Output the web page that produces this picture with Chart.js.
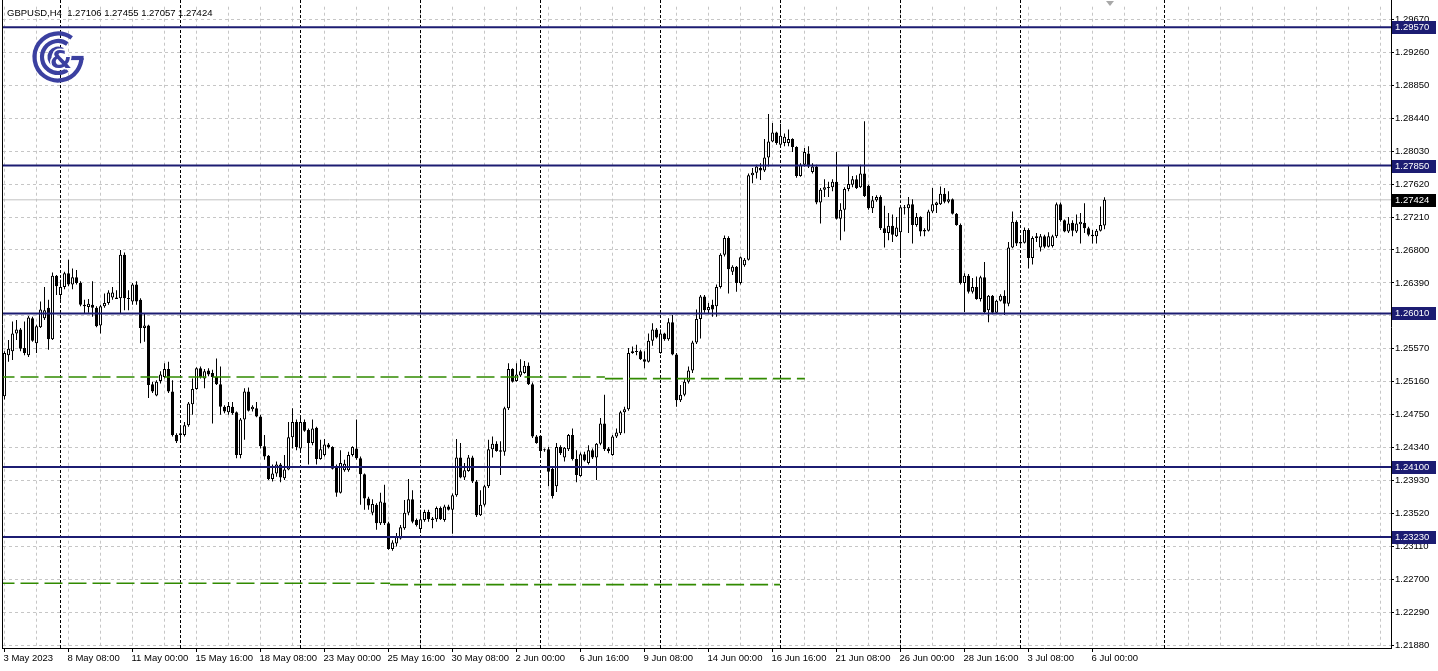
<!DOCTYPE html>
<html>
<head>
<meta charset="utf-8">
<script src="https://cdn.jsdelivr.net/npm/chart.js@4.4.0/dist/chart.umd.min.js"></script>
<style>
html,body{margin:0;padding:0;background:#fff;overflow:hidden}
#wrap{position:relative;width:1438px;height:671px}
#c{position:absolute;left:0;top:0}
</style>
</head>
<body>
<div id="wrap"><canvas id="c" width="1438" height="671"></canvas></div>
<script>
const symbolName = 'GBPUSD';
const timeframe = 'H4';

const opens = [1.2498,1.2549,1.2554,1.2576,1.2581,1.2558,1.2549,1.2595,1.2564,1.2584,
1.2595,1.2608,1.2569,1.2648,1.2624,1.2634,1.2651,1.2637,1.2646,1.2639,
1.2612,1.2609,1.2612,1.2608,1.2586,1.2610,1.2614,1.2621,1.2621,1.2620,
1.2674,1.2620,1.2616,1.2637,1.2618,1.2583,1.2586,1.2513,1.2499,1.2517,
1.2522,1.2532,1.2504,1.2450,1.2450,1.2450,1.2462,1.2488,1.2507,1.2533,
1.2520,1.2530,1.2527,1.2522,1.2513,1.2485,1.2478,1.2485,1.2478,1.2425,
1.2469,1.2504,1.2482,1.2483,1.2473,1.2436,1.2424,1.2395,1.2402,1.2413,
1.2396,1.2407,1.2447,1.2466,1.2433,1.2466,1.2456,1.2440,1.2459,1.2420,
1.2425,1.2438,1.2435,1.2410,1.2378,1.2406,1.2406,1.2425,1.2433,1.2421,
1.2401,1.2371,1.2353,1.2363,1.2340,1.2366,1.2340,1.2308,1.2315,1.2321,
1.2334,1.2353,1.2370,1.2344,1.2333,1.2344,1.2354,1.2346,1.2345,1.2359,
1.2344,1.2361,1.2357,1.2375,1.2422,1.2397,1.2405,1.2422,1.2392,1.2350,
1.2363,1.2386,1.2432,1.2439,1.2431,1.2429,1.2483,1.2532,1.2517,1.2524,
1.2527,1.2536,1.2513,1.2448,1.2449,1.2432,1.2432,1.2408,1.2386,1.2435,
1.2422,1.2432,1.2450,1.2420,1.2399,1.2426,1.2415,1.2431,1.2422,1.2439,
1.2464,1.2433,1.2425,1.2448,1.2452,1.2478,1.2482,1.2554,1.2554,1.2554,
1.2544,1.2541,1.2567,1.2581,1.2552,1.2576,1.2569,1.2590,1.2550,1.2493,
1.2500,1.2516,1.2530,1.2565,1.2594,1.2622,1.2605,1.2612,1.2610,1.2634,
1.2674,1.2695,1.2653,1.2659,1.2639,1.2661,1.2668,1.2773,1.2776,1.2782,
1.2779,1.2795,1.2815,1.2826,1.2811,1.2813,1.2813,1.2818,1.2808,1.2772,
1.2786,1.2800,1.2777,1.2784,1.2739,1.2755,1.2757,1.2758,1.2765,1.2719,
1.2730,1.2756,1.2761,1.2768,1.2758,1.2775,1.2760,1.2732,1.2742,1.2746,
1.2707,1.2701,1.2710,1.2697,1.2702,1.2732,1.2732,1.2737,1.2711,1.2721,
1.2705,1.2704,1.2728,1.2736,1.2737,1.2750,1.2740,1.2743,1.2725,1.2711,
1.2639,1.2648,1.2628,1.2634,1.2619,1.2646,1.2605,1.2623,1.2602,1.2617,
1.2623,1.2613,1.2683,1.2715,1.2688,1.2689,1.2705,1.2670,1.2695,1.2683,
1.2697,1.2684,1.2685,1.2697,1.2737,1.2717,1.2703,1.2714,1.2703,1.2712,
1.2714,1.2707,1.2699,1.2697,1.2704,1.27106];

const highs = [1.2554,1.2568,1.2591,1.2593,1.2583,1.2591,1.2598,1.2597,1.2587,1.2616,
1.2634,1.2618,1.2652,1.2649,1.2643,1.2653,1.2668,1.2657,1.2655,1.2641,
1.2618,1.2619,1.2641,1.2610,1.2612,1.2626,1.2630,1.2634,1.2630,1.2680,
1.2677,1.2630,1.2639,1.2641,1.2620,1.2601,1.2587,1.2516,1.2518,1.2529,
1.2539,1.2541,1.2518,1.2452,1.2460,1.2466,1.2491,1.2520,1.2534,1.2535,
1.2532,1.2533,1.2531,1.2545,1.2535,1.2487,1.2491,1.2491,1.2479,1.2471,
1.2508,1.2509,1.2487,1.2491,1.2475,1.2450,1.2425,1.2413,1.2417,1.2415,
1.2425,1.2466,1.2483,1.2469,1.2471,1.2469,1.2458,1.2469,1.2460,1.2444,
1.2445,1.2440,1.2436,1.2413,1.2431,1.2419,1.2429,1.2436,1.2469,1.2423,
1.2402,1.2373,1.2370,1.2365,1.2378,1.2388,1.2342,1.2319,1.2328,1.2338,
1.2369,1.2395,1.2381,1.2346,1.2357,1.2357,1.2357,1.2348,1.2361,1.2361,
1.2363,1.2363,1.2377,1.2445,1.2440,1.2415,1.2425,1.2424,1.2394,1.2381,
1.2388,1.2444,1.2448,1.2442,1.2442,1.2485,1.2539,1.2533,1.2539,1.2544,
1.2542,1.2540,1.2515,1.2450,1.2450,1.2433,1.2435,1.2410,1.2440,1.2437,
1.2435,1.2451,1.2458,1.2431,1.2428,1.2429,1.2437,1.2433,1.2440,1.2471,
1.2500,1.2435,1.2450,1.2458,1.2480,1.2485,1.2558,1.2560,1.2562,1.2556,
1.2554,1.2576,1.2589,1.2583,1.2581,1.2577,1.2595,1.2599,1.2552,1.2512,
1.2520,1.2535,1.2567,1.2606,1.2624,1.2624,1.2614,1.2618,1.2637,1.2676,
1.2698,1.2697,1.2661,1.2660,1.2672,1.2670,1.2775,1.2782,1.2786,1.2788,
1.2818,1.2849,1.2838,1.2827,1.2837,1.2825,1.2830,1.2819,1.2809,1.2788,
1.2807,1.2809,1.2788,1.2786,1.2757,1.2768,1.2765,1.2768,1.2802,1.2738,
1.2758,1.2786,1.2772,1.2773,1.2786,1.2840,1.2761,1.2747,1.2748,1.2748,
1.2735,1.2726,1.2724,1.2721,1.2735,1.2736,1.2746,1.2743,1.2726,1.2722,
1.2707,1.2730,1.2757,1.2740,1.2759,1.2757,1.2753,1.2744,1.2726,1.2713,
1.2651,1.2650,1.2645,1.2647,1.2648,1.2665,1.2624,1.2624,1.2618,1.2625,
1.2630,1.2690,1.2728,1.2717,1.2695,1.2708,1.2707,1.2697,1.2701,1.2700,
1.2699,1.2702,1.2699,1.2739,1.2739,1.2718,1.2721,1.2717,1.2724,1.2726,
1.2738,1.2709,1.2705,1.2706,1.2734,1.27455];

const lows = [1.2494,1.2541,1.2543,1.2568,1.2554,1.2549,1.2547,1.2566,1.2552,1.2583,
1.2593,1.2556,1.2568,1.2624,1.2618,1.2631,1.2635,1.2631,1.2637,1.2610,
1.2601,1.2602,1.2597,1.2584,1.2576,1.2608,1.2612,1.2618,1.2619,1.2601,
1.2605,1.2605,1.2612,1.2612,1.2564,1.2566,1.2496,1.2502,1.2498,1.2514,
1.2520,1.2502,1.2448,1.2440,1.2440,1.2448,1.2460,1.2475,1.2506,1.2520,
1.2508,1.2523,1.2464,1.2512,1.2475,1.2477,1.2475,1.2475,1.2421,1.2421,
1.2444,1.2479,1.2479,1.2472,1.2433,1.2419,1.2394,1.2392,1.2398,1.2391,
1.2394,1.2406,1.2433,1.2431,1.2431,1.2454,1.2413,1.2437,1.2413,1.2419,
1.2423,1.2433,1.2407,1.2373,1.2377,1.2404,1.2404,1.2423,1.2419,1.2363,
1.2357,1.2357,1.2350,1.2332,1.2338,1.2338,1.2307,1.2306,1.2311,1.2320,
1.2332,1.2350,1.2340,1.2336,1.2328,1.2342,1.2342,1.2334,1.2342,1.2344,
1.2342,1.2356,1.2327,1.2373,1.2396,1.2394,1.2404,1.2390,1.2348,1.2349,
1.2361,1.2384,1.2422,1.2429,1.2400,1.2424,1.2481,1.2515,1.2516,1.2522,
1.2526,1.2512,1.2446,1.2439,1.2425,1.2429,1.2386,1.2371,1.2379,1.2425,
1.2417,1.2430,1.2418,1.2391,1.2398,1.2417,1.2413,1.2420,1.2394,1.2437,
1.2430,1.2427,1.2424,1.2446,1.2450,1.2452,1.2480,1.2551,1.2549,1.2543,
1.2533,1.2540,1.2561,1.2570,1.2551,1.2567,1.2567,1.2549,1.2485,1.2491,
1.2498,1.2514,1.2527,1.2563,1.2570,1.2602,1.2601,1.2597,1.2597,1.2632,
1.2672,1.2626,1.2649,1.2628,1.2637,1.2659,1.2667,1.2763,1.2769,1.2767,
1.2777,1.2784,1.2814,1.2811,1.2809,1.2809,1.2809,1.2802,1.2770,1.2771,
1.2784,1.2782,1.2775,1.2737,1.2713,1.2746,1.2746,1.2753,1.2718,1.2692,
1.2703,1.2753,1.2758,1.2756,1.2757,1.2746,1.2730,1.2726,1.2740,1.2705,
1.2683,1.2692,1.2690,1.2696,1.2670,1.2724,1.2701,1.2688,1.2709,1.2697,
1.2697,1.2703,1.2726,1.2726,1.2736,1.2738,1.2738,1.2724,1.2710,1.2637,
1.2603,1.2626,1.2626,1.2618,1.2616,1.2601,1.2590,1.2600,1.2601,1.2616,
1.2599,1.2610,1.2682,1.2685,1.2686,1.2688,1.2657,1.2662,1.2690,1.2678,
1.2682,1.2683,1.2683,1.2695,1.2715,1.2702,1.2701,1.2697,1.2701,1.2688,
1.2701,1.2697,1.2688,1.2688,1.2703,1.27057];

const closes = [1.2552,1.2557,1.2576,1.2581,1.2557,1.2552,1.2596,1.2567,1.2585,1.2606,
1.2605,1.2569,1.2648,1.2635,1.2634,1.2651,1.2637,1.2646,1.2639,1.2612,
1.2610,1.2613,1.2608,1.2585,1.2610,1.2614,1.2627,1.2627,1.2619,1.2674,
1.2620,1.2619,1.2637,1.2616,1.2583,1.2586,1.2512,1.2504,1.2516,1.2525,
1.2532,1.2504,1.2450,1.2442,1.2452,1.2462,1.2489,1.2507,1.2533,1.2522,
1.2529,1.2525,1.2522,1.2513,1.2485,1.2479,1.2486,1.2477,1.2425,1.2469,
1.2504,1.2480,1.2485,1.2473,1.2436,1.2423,1.2395,1.2402,1.2413,1.2397,
1.2407,1.2447,1.2466,1.2435,1.2466,1.2455,1.2440,1.2458,1.2420,1.2432,
1.2438,1.2435,1.2408,1.2378,1.2415,1.2414,1.2425,1.2435,1.2421,1.2401,
1.2371,1.2362,1.2364,1.2340,1.2367,1.2340,1.2308,1.2316,1.2323,1.2335,
1.2353,1.2370,1.2342,1.2338,1.2345,1.2354,1.2345,1.2344,1.2359,1.2345,
1.2361,1.2357,1.2375,1.2422,1.2397,1.2406,1.2422,1.2392,1.2350,1.2363,
1.2386,1.2432,1.2439,1.2430,1.2429,1.2483,1.2532,1.2516,1.2525,1.2529,
1.2536,1.2513,1.2448,1.2440,1.2430,1.2431,1.2404,1.2374,1.2435,1.2427,
1.2434,1.2450,1.2420,1.2400,1.2426,1.2418,1.2431,1.2422,1.2439,1.2464,
1.2432,1.2430,1.2448,1.2453,1.2478,1.2482,1.2552,1.2552,1.2553,1.2544,
1.2541,1.2567,1.2581,1.2571,1.2576,1.2569,1.2590,1.2550,1.2493,1.2500,
1.2516,1.2530,1.2565,1.2594,1.2622,1.2605,1.2609,1.2606,1.2634,1.2674,
1.2695,1.2656,1.2659,1.2639,1.2671,1.2668,1.2773,1.2776,1.2784,1.2779,
1.2795,1.2815,1.2826,1.2813,1.2822,1.2821,1.2818,1.2808,1.2772,1.2786,
1.2802,1.2784,1.2784,1.2739,1.2755,1.2758,1.2758,1.2765,1.2719,1.2730,
1.2756,1.2762,1.2768,1.2757,1.2775,1.2747,1.2732,1.2742,1.2746,1.2707,
1.2701,1.2710,1.2699,1.2708,1.2733,1.2733,1.2737,1.2711,1.2721,1.2703,
1.2703,1.2728,1.2737,1.2739,1.2750,1.2740,1.2743,1.2725,1.2711,1.2639,
1.2648,1.2628,1.2634,1.2619,1.2646,1.2603,1.2623,1.2602,1.2617,1.2623,
1.2613,1.2683,1.2715,1.2688,1.2690,1.2705,1.2670,1.2695,1.2697,1.2697,
1.2684,1.2697,1.2697,1.2737,1.2717,1.2703,1.2713,1.2704,1.2713,1.2715,
1.2707,1.2699,1.2697,1.2704,1.2711,1.27424];

const xTickLabels = ['3 May 2023','8 May 08:00','11 May 00:00','15 May 16:00','18 May 08:00',
  '23 May 00:00','25 May 16:00','30 May 08:00','2 Jun 00:00','6 Jun 16:00','9 Jun 08:00',
  '14 Jun 00:00','16 Jun 16:00','21 Jun 08:00','26 Jun 00:00','28 Jun 16:00','3 Jul 08:00','6 Jul 00:00'];
const barsPerLabel = 16;
const barsPerGrid = 8;

const yTickValues = [1.2188,1.2229,1.2270,1.2311,1.2352,1.2393,1.2434,1.2475,1.2516,1.2557,
  1.2598,1.2639,1.2680,1.2721,1.2762,1.2803,1.2844,1.2885,1.2926,1.2967];

const levelPrices = [1.2957, 1.2785, 1.2601, 1.2410, 1.2323];
const currentPrice = closes[closes.length - 1];
const weekSeparatorBars = [14, 44, 74, 104, 134, 164, 194, 224, 254, 290];
// [start bar, end bar, price]
const greenLevels = [[-2, 150.1, 1.2522], [150.1, 200.1, 1.2520], [-2, 96.4, 1.22655], [96.4, 193.9, 1.22637]];

// ---------- view settings ----------
const X_MIN = -0.375, X_MAX = 346.625;
const PX_PER_PRICE = 8039;
const ANCHOR_PRICE = 1.2188, ANCHOR_Y = 645.5;
const FONT = '"Liberation Sans", Arial, sans-serif';
const NAVY = '#1c1c72';

const bodies = closes.map((c, i) => ({x: i, y: [opens[i], c]}));
const wicks = highs.map((h, i) => ({x: i, y: [lows[i], h]}));
const bodyFill = closes.map((c, i) => c >= opens[i] ? '#ffffff' : '#000000');

const datasets = [];
datasets.push({type: 'line', data: [{x: X_MIN - 2, y: currentPrice}, {x: X_MAX + 2, y: currentPrice}],
  borderColor: '#c2c2c2', borderWidth: 1, pointRadius: 0, order: 10});
datasets.push({type: 'bar', data: wicks, backgroundColor: '#000', borderWidth: 0,
  barThickness: 1, grouped: false, inflateAmount: 0, order: 6});
datasets.push({type: 'bar', data: bodies, backgroundColor: bodyFill, borderColor: '#000', borderWidth: 1,
  borderSkipped: false, barThickness: 3, minBarLength: 1, grouped: false, inflateAmount: 0, order: 5});
greenLevels.forEach(g => datasets.push({type: 'line', data: [{x: g[0], y: g[2]}, {x: g[1], y: g[2]}],
  borderColor: '#318a00', borderWidth: 1.6, borderDash: [18, 6], pointRadius: 0, order: 2}));
levelPrices.forEach(p => datasets.push({type: 'line', data: [{x: X_MIN - 2, y: p}, {x: X_MAX + 2, y: p}],
  borderColor: NAVY, borderWidth: 2, pointRadius: 0, order: 1}));

const decor = {
  id: 'decor',
  beforeDatasetsDraw(chart) {
    const {ctx, chartArea: a, scales: {x}} = chart;
    ctx.save();
    ctx.strokeStyle = '#000'; ctx.lineWidth = 1; ctx.setLineDash([3, 2]);
    weekSeparatorBars.forEach(b => {
      const px = Math.floor(x.getPixelForValue(b)) + 0.5;
      ctx.beginPath(); ctx.moveTo(px, 0); ctx.lineTo(px, a.bottom); ctx.stroke();
    });
    ctx.restore();
  },
  afterDraw(chart) {
    const {ctx, chartArea: a, scales: {y}} = chart;
    ctx.save();
    ctx.strokeStyle = '#000'; ctx.lineWidth = 1;
    ctx.beginPath(); ctx.moveTo(a.left - 0.5, 0); ctx.lineTo(a.left - 0.5, a.bottom + 1); ctx.stroke();
    ctx.beginPath(); ctx.moveTo(a.right + 0.5, 0); ctx.lineTo(a.right + 0.5, a.top); ctx.stroke();
    // price boxes
    ctx.font = '9.5px ' + FONT; ctx.textBaseline = 'middle'; ctx.textAlign = 'left';
    const box = (p, col) => {
      const py = Math.round(y.getPixelForValue(p));
      ctx.fillStyle = col; ctx.fillRect(a.right + 1, py - 6, 44, 13);
      ctx.fillStyle = '#fff'; ctx.fillText(p.toFixed(5), a.right + 4, py + 0.5);
    };
    levelPrices.forEach(p => box(p, NAVY));
    box(currentPrice, '#000');
    // title
    ctx.fillStyle = '#000'; ctx.textBaseline = 'alphabetic';
    const n = closes.length - 1;
    ctx.fillText(symbolName + ',' + timeframe + '  ' + [opens[n], highs[n], lows[n], closes[n]].map(v => v.toFixed(5)).join(' '), 7, 16);
    // chart shift marker
    ctx.fillStyle = '#a8a8a8';
    ctx.beginPath(); ctx.moveTo(1106, 1); ctx.lineTo(1114, 1); ctx.lineTo(1110, 6); ctx.closePath(); ctx.fill();
    // logo
    const cx = 58, cy = 57, lc = '#3b40a0';
    ctx.strokeStyle = lc; ctx.lineWidth = 4.2; ctx.setLineDash([]);
    ctx.beginPath(); ctx.arc(cx, cy, 23.5, -0.95, 0.04, true); ctx.stroke();
    ctx.beginPath(); ctx.moveTo(cx + 25.6, cy + 1); ctx.lineTo(cx + 11, cy + 1); ctx.stroke();
    ctx.beginPath(); ctx.arc(cx, cy, 16, -0.95, 0.95, true); ctx.stroke();
    ctx.beginPath(); ctx.arc(cx, cy, 8.5, -1.0, 1.0, true); ctx.stroke();
    ctx.font = 'bold 25px "DejaVu Sans", sans-serif'; ctx.textAlign = 'center'; ctx.textBaseline = 'middle';
    ctx.lineWidth = 3; ctx.strokeStyle = '#fff'; ctx.strokeText('&', cx + 3, cy + 4);
    ctx.fillStyle = lc; ctx.fillText('&', cx + 3, cy + 4);
    ctx.restore();
  }
};

const isLabelTick = v => v % barsPerLabel === 0 && v / barsPerLabel < xTickLabels.length;

const chart = new Chart(document.getElementById('c'), {
  type: 'bar',
  data: {datasets},
  plugins: [decor],
  options: {
    responsive: false, animation: false, events: [],
    layout: {padding: {left: 3, top: 1, right: 0, bottom: 0}, autoPadding: false},
    plugins: {legend: {display: false}, tooltip: {enabled: false}},
    scales: {
      x: {
        type: 'linear', min: X_MIN, max: X_MAX, offset: false,
        afterFit(s) { s.height = 23; },
        afterBuildTicks(s) {
          const t = [];
          for (let v = 0; v <= X_MAX; v += barsPerGrid) t.push({value: v});
          s.ticks = t;
        },
        grid: {offset: false, color: '#c6c6c6', lineWidth: 1, drawTicks: true, tickLength: 4,
          tickColor: c => (c.tick && isLabelTick(c.tick.value)) ? '#000' : 'rgba(0,0,0,0)'},
        border: {display: true, color: '#000', width: 1, dash: [3, 3]},
        ticks: {
          autoSkip: false, maxRotation: 0, minRotation: 0, align: 'start', labelOffset: -1, padding: 1,
          color: '#000', font: {family: FONT, size: 9.5},
          callback: v => isLabelTick(v) ? xTickLabels[v / barsPerLabel] : ''
        }
      },
      y: {
        type: 'linear', position: 'right', min: 1.21849, max: 1.29898, beginAtZero: false,
        afterFit(s) { s.width = 47; },
        afterBuildTicks(s) { s.ticks = yTickValues.map(v => ({value: v})); },
        grid: {color: '#c6c6c6', lineWidth: 1, drawTicks: true, tickLength: 3, tickColor: '#000'},
        border: {display: true, color: '#000', width: 1, dash: [3, 3]},
        ticks: {padding: 1, color: '#000', font: {family: FONT, size: 9.5},
          callback: v => Number(v).toFixed(5)}
      }
    }
  }
});

// match the terminal's vertical zoom to the real plot area
const area = chart.chartArea;
chart.options.scales.y.max = ANCHOR_PRICE + (ANCHOR_Y - area.top) / PX_PER_PRICE;
chart.options.scales.y.min = ANCHOR_PRICE - (area.bottom - ANCHOR_Y) / PX_PER_PRICE;
chart.update();
</script>
</body>
</html>
